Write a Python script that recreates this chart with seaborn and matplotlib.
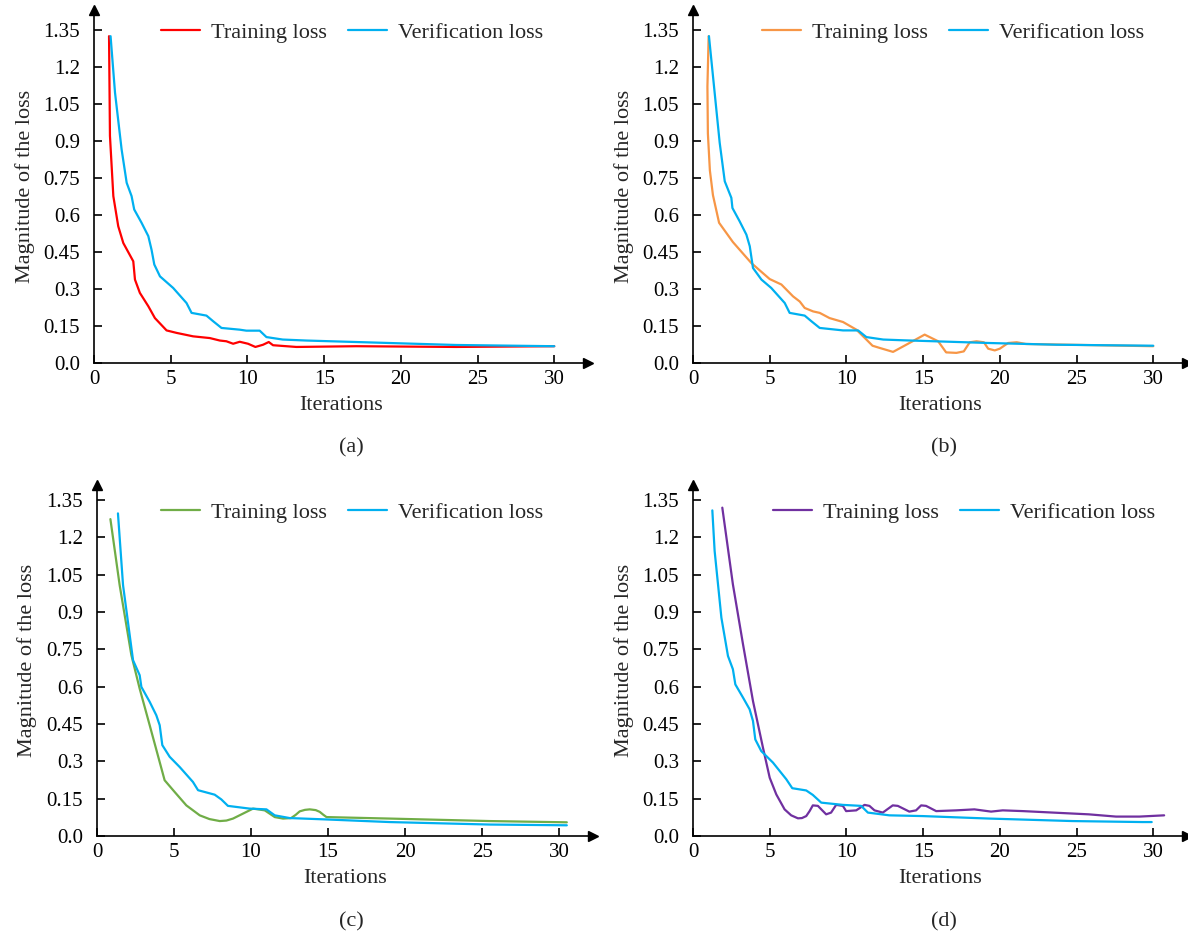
import numpy as np
import pandas as pd
import matplotlib
matplotlib.use("Agg")
import matplotlib.pyplot as plt
import seaborn as sns

sns.set_style("ticks")
plt.rcParams['font.family'] = ['Liberation Serif', 'DejaVu Serif']
plt.rcParams['mathtext.fontset'] = 'stix'

# ---------------- data ----------------
y_ticks = [0.0, 0.15, 0.3, 0.45, 0.6, 0.75, 0.9, 1.05, 1.2, 1.35]
y_tick_labels = ["0.0", "0.15", "0.3", "0.45", "0.6", "0.75", "0.9", "1.05", "1.2", "1.35"]
x_ticks = [0, 5, 10, 15, 20, 25, 30]
series_names = ["Training loss", "Verification loss"]
captions = ["(a)", "(b)", "(c)", "(d)"]

# (a)
a_train_x = [0.98, 1.04, 1.26, 1.58, 1.91, 2.56, 2.67, 2.99, 3.54, 3.97, 4.73, 5.38, 6.46, 7.55, 8.2, 8.63,
             9.07, 9.5, 10.04, 10.52, 11.02, 11.39, 11.67, 13.19, 17.1, 23.6, 30.0]
a_train_y = [1.324, 0.92, 0.676, 0.554, 0.486, 0.412, 0.338, 0.284, 0.23, 0.182, 0.132, 0.122, 0.108, 0.101,
             0.091, 0.088, 0.078, 0.086, 0.078, 0.065, 0.074, 0.085, 0.072, 0.065, 0.068, 0.065, 0.068]
a_val_x = [1.08, 1.37, 1.8, 2.13, 2.45, 2.62, 3.1, 3.54, 3.75, 3.93, 4.3, 5.16, 6.03, 6.36, 7.33, 7.77,
           8.31, 9.5, 9.93, 10.8, 11.24, 12.3, 13.84, 19.26, 23.6, 30.0]
a_val_y = [1.324, 1.095, 0.865, 0.73, 0.676, 0.622, 0.568, 0.514, 0.459, 0.399, 0.351, 0.304, 0.243, 0.203,
           0.192, 0.169, 0.142, 0.135, 0.131, 0.131, 0.105, 0.095, 0.091, 0.081, 0.073, 0.068]

# (b)
b_train_x = [1.02, 0.94, 0.97, 1.1, 1.3, 1.7, 2.6, 3.8, 5.0, 5.76, 6.52, 6.96, 7.28, 7.83, 8.26, 8.9, 9.78,
             10.65, 11.3, 11.7, 12.17, 13.04, 13.9, 15.1, 15.98, 16.5, 17.17, 17.65, 18.04, 18.48, 18.96,
             19.24, 19.67, 20.0, 20.54, 21.1, 21.7, 30.0]
b_train_y = [1.324, 1.12, 0.93, 0.78, 0.68, 0.568, 0.49, 0.405, 0.34, 0.318, 0.27, 0.249, 0.223, 0.209,
             0.203, 0.182, 0.166, 0.135, 0.095, 0.07, 0.061, 0.045, 0.074, 0.115, 0.088, 0.043, 0.041, 0.047,
             0.084, 0.088, 0.084, 0.058, 0.051, 0.058, 0.081, 0.084, 0.077, 0.068]
b_val_x = [1.04, 1.74, 2.07, 2.5, 2.57, 3.04, 3.48, 3.7, 3.91, 4.46, 5.1, 5.98, 6.3, 7.28, 7.72, 8.26,
           9.78, 10.76, 11.3, 12.4, 13.7, 19.3, 23.7, 30.0]
b_val_y = [1.324, 0.892, 0.736, 0.669, 0.628, 0.574, 0.52, 0.473, 0.385, 0.338, 0.304, 0.243, 0.203, 0.192,
           0.169, 0.142, 0.132, 0.132, 0.105, 0.095, 0.092, 0.081, 0.074, 0.07]

# (c)
c_train_x = [0.87, 1.47, 2.23, 2.77, 3.42, 4.39, 5.04, 5.8, 6.67, 7.3, 7.97, 8.4, 8.83, 9.48, 10.13, 10.89,
             11.54, 12.08, 12.6, 12.9, 13.16, 13.5, 13.81, 14.2, 14.46, 14.7, 14.9, 19.0, 25.5, 30.5]
c_train_y = [1.273, 1.008, 0.727, 0.592, 0.445, 0.224, 0.177, 0.123, 0.083, 0.068, 0.06, 0.062, 0.07, 0.09,
             0.11, 0.103, 0.076, 0.07, 0.072, 0.085, 0.099, 0.105, 0.107, 0.104, 0.097, 0.085, 0.076, 0.07,
             0.06, 0.055]
c_val_x = [1.36, 1.69, 2.34, 2.77, 2.88, 3.42, 3.85, 4.07, 4.24, 4.72, 5.37, 6.23, 6.56, 7.64, 8.07, 8.5,
           9.91, 11.0, 11.54, 12.51, 14.68, 19.0, 25.5, 30.5]
c_val_y = [1.296, 1.008, 0.706, 0.646, 0.599, 0.539, 0.485, 0.445, 0.365, 0.318, 0.277, 0.217, 0.184, 0.166,
           0.147, 0.121, 0.11, 0.107, 0.083, 0.072, 0.067, 0.056, 0.046, 0.043]

# (d)
d_train_x = [1.91, 2.6, 3.26, 3.91, 4.56, 5.0, 5.43, 5.97, 6.4, 6.84, 7.1, 7.38, 7.6, 7.81, 8.14, 8.68, 9.0,
             9.33, 9.77, 9.98, 10.64, 11.18, 11.5, 11.83, 12.37, 13.02, 13.35, 14.1, 14.54, 14.87, 15.19,
             15.85, 17.15, 18.34, 19.43, 20.19, 21.5, 25.8, 27.57, 29.1, 30.71]
d_train_y = [1.319, 1.011, 0.77, 0.542, 0.355, 0.234, 0.167, 0.107, 0.083, 0.071, 0.072, 0.08, 0.1, 0.123,
             0.121, 0.087, 0.094, 0.125, 0.121, 0.1, 0.103, 0.125, 0.121, 0.103, 0.094, 0.123, 0.121, 0.098,
             0.103, 0.123, 0.121, 0.1, 0.103, 0.107, 0.098, 0.103, 0.1, 0.087, 0.078, 0.078, 0.083]
d_val_x = [1.26, 1.41, 1.85, 2.28, 2.6, 2.76, 3.26, 3.69, 3.91, 4.06, 4.45, 5.21, 6.08, 6.47, 7.38, 7.81,
           8.36, 9.77, 10.96, 11.4, 12.8, 14.98, 19.32, 24.74, 29.3, 29.9]
d_val_y = [1.308, 1.145, 0.877, 0.723, 0.67, 0.609, 0.556, 0.509, 0.462, 0.388, 0.341, 0.295, 0.228, 0.192,
           0.183, 0.165, 0.134, 0.125, 0.121, 0.094, 0.083, 0.08, 0.07, 0.06, 0.056, 0.056]

train_colors = ["#FF0000", "#F79646", "#70AD47", "#7030A0"]
val_color = "#00B0F0"

panels = [
    (a_train_x, a_train_y, a_val_x, a_val_y),
    (b_train_x, b_train_y, b_val_x, b_val_y),
    (c_train_x, c_train_y, c_val_x, c_val_y),
    (d_train_x, d_train_y, d_val_x, d_val_y),
]

W, H = 1188, 932
fig = plt.figure(figsize=(W / 100, H / 100), dpi=100)

# pixel rects: left, top, right, bottom
rects = [(94, 10, 588, 363), (693, 10, 1187, 363), (97, 485, 593, 836), (693, 485, 1187, 836)]
ylims = [1.43, 1.43, 1.41, 1.41]
cap_pos = [(351, 448), (944, 448), (351, 922), (944, 922)]
leg_pos = [(0.522, 0.937), (0.527, 0.937), (0.515, 0.922), (0.548, 0.922)]

for i, (tx, ty, vx, vy) in enumerate(panels):
    l, t, r, b = rects[i]
    ax = fig.add_axes([l / W, 1 - b / H, (r - l) / W, (b - t) / H])
    df_t = pd.DataFrame({"x": tx, "y": ty})
    df_v = pd.DataFrame({"x": vx, "y": vy})
    sns.lineplot(data=df_t, x="x", y="y", ax=ax, color=train_colors[i], lw=1.6,
                 sort=False, estimator=None, label=series_names[0])
    sns.lineplot(data=df_v, x="x", y="y", ax=ax, color=val_color, lw=1.6,
                 sort=False, estimator=None, label=series_names[1])
    ax.set_xlim(0, 32.2)
    ax.set_ylim(0, ylims[i])
    ax.set_xticks(x_ticks)
    ax.set_xticklabels([str(v) for v in x_ticks])
    ax.set_yticks(y_ticks)
    ax.set_yticklabels(y_tick_labels)
    ax.tick_params(direction="in", length=6, width=1.2, labelsize=15, colors="black")
    ax.tick_params(axis="x", pad=5)
    ax.tick_params(axis="y", pad=10)
    for s in ["top", "right"]:
        ax.spines[s].set_visible(False)
    for s in ["left", "bottom"]:
        ax.spines[s].set_linewidth(1.2)
        ax.spines[s].set_color("black")
    ax.plot(1, 0, ">", color="black", ms=7, transform=ax.transAxes, clip_on=False)
    ax.plot(0, 1, "^", color="black", ms=7, transform=ax.transAxes, clip_on=False)
    ax.set_xlabel("Iterations", fontsize=16, labelpad=5)
    ax.set_ylabel("Magnitude of the loss", fontsize=16)
    ax.yaxis.set_label_coords(-0.12, 0.5)
    ax.legend(loc="center", bbox_to_anchor=leg_pos[i], ncol=2, frameon=False, fontsize=16,
              handlelength=1.75, handletextpad=0.5, columnspacing=0.95, borderaxespad=0)
    fig.text(cap_pos[i][0] / W, 1 - cap_pos[i][1] / H, captions[i], ha="center", va="center", fontsize=16)

fig.savefig("out.png", dpi=100)
